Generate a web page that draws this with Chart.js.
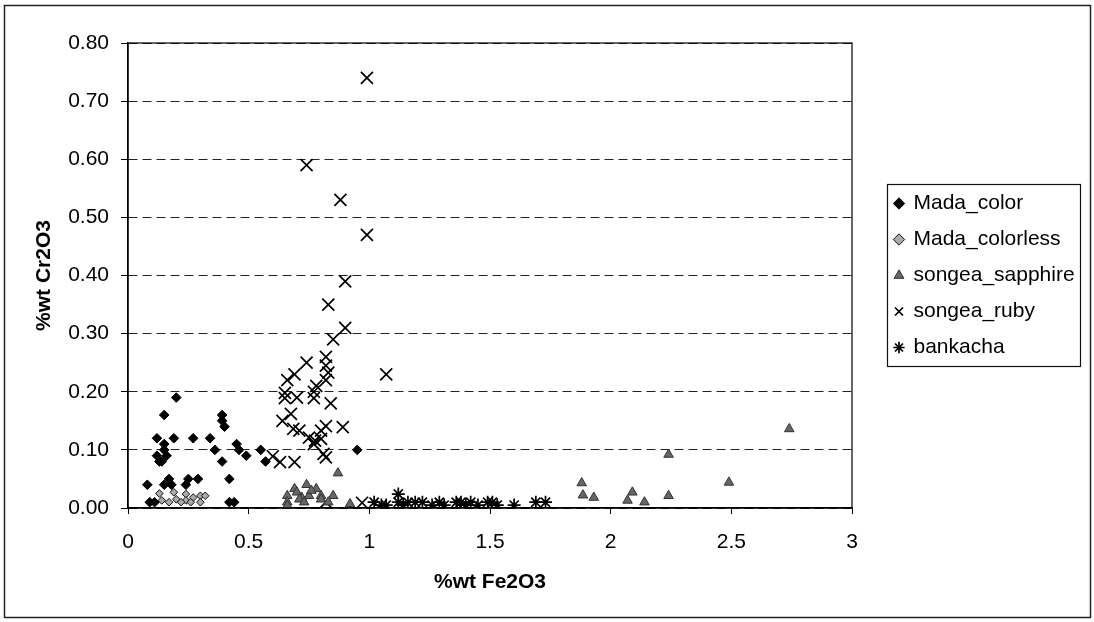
<!DOCTYPE html>
<html><head><meta charset="utf-8">
<script src="https://cdn.jsdelivr.net/npm/chart.js@4.4.0/dist/chart.umd.min.js"></script>
<style>html,body{margin:0;padding:0;background:#fff;}canvas{display:block;}</style>
</head><body>
<canvas id="c" width="1094" height="622"></canvas>
<script>
// ---- data ----
const seriesNames = ['Mada_color', 'Mada_colorless', 'songea_sapphire', 'songea_ruby', 'bankacha'];
const xTickValues = [0, 0.5, 1, 1.5, 2, 2.5, 3];
const yTickValues = [0, 0.1, 0.2, 0.3, 0.4, 0.5, 0.6, 0.7, 0.8];
const xTitle = '%wt Fe2O3';
const yTitle = '%wt Cr2O3';

const madaColorX = [0.20,0.15,0.39,0.39,0.40,0.12,0.19,0.27,0.34,0.15,0.15,0.16,0.12,0.13,0.14,0.36,0.39,0.45,0.46,0.49,0.55,0.57,0.08,0.15,0.17,0.18,0.24,0.25,0.29,0.42,0.09,0.11,0.42,0.44,0.95];
const madaColorY = [0.19,0.16,0.16,0.15,0.14,0.12,0.12,0.12,0.12,0.11,0.10,0.09,0.09,0.08,0.08,0.10,0.08,0.11,0.10,0.09,0.10,0.08,0.04,0.04,0.05,0.04,0.04,0.05,0.05,0.05,0.01,0.01,0.01,0.01,0.10];

const madaColorlessX = [0.13,0.14,0.19,0.20,0.24,0.24,0.27,0.30,0.30,0.32,0.22,0.17,0.26,0.11];
const madaColorlessY = [0.025,0.013,0.027,0.015,0.024,0.013,0.018,0.021,0.010,0.021,0.010,0.010,0.010,0.010];

const sapphireX = [0.87,0.74,0.69,0.66,0.66,0.78,0.80,0.85,0.92,0.72,0.75,0.70,0.80,0.71,0.66,0.76,0.73,0.83,2.74,2.24,1.88,1.885,1.93,2.09,2.07,2.14,2.24,2.49];
const sapphireY = [0.060,0.040,0.033,0.021,0.010,0.033,0.021,0.021,0.007,0.018,0.021,0.027,0.015,0.015,0.004,0.030,0.010,0.010,0.136,0.092,0.043,0.022,0.018,0.027,0.013,0.010,0.021,0.044];

const rubyX = [0.99,0.74,0.88,0.99,0.90,0.83,0.90,0.85,1.07,0.74,0.69,0.66,0.82,0.82,0.83,0.82,0.78,0.77,0.65,0.65,0.70,0.77,0.84,0.675,0.64,0.685,0.71,0.82,0.89,0.80,0.75,0.775,0.80,0.77,0.81,0.82,0.63,0.69,0.60,0.82,0.97];
const rubyY = [0.74,0.59,0.53,0.47,0.39,0.35,0.31,0.29,0.23,0.25,0.23,0.22,0.26,0.245,0.233,0.22,0.21,0.20,0.198,0.189,0.19,0.189,0.18,0.162,0.15,0.136,0.133,0.141,0.139,0.133,0.121,0.116,0.119,0.11,0.093,0.087,0.079,0.079,0.089,0.01,0.009];

const bankachaX = [1.02,1.05,1.07,1.12,1.12,1.14,1.16,1.19,1.22,1.26,1.29,1.31,1.36,1.38,1.40,1.42,1.45,1.49,1.51,1.53,1.60,1.69,1.73];
const bankachaY = [0.010,0.005,0.005,0.024,0.010,0.005,0.010,0.010,0.010,0.005,0.010,0.005,0.010,0.010,0.005,0.010,0.005,0.010,0.010,0.005,0.005,0.010,0.010];

// ---- layout / style constants ----
const FONT = "'Liberation Sans', Arial, sans-serif";
const LEGEND_W = 242;
const LEGEND_SHIFT = 28;

const zip = (xs, ys) => xs.map((x, i) => ({x, y: ys[i]}));

const framePlugin = {
  id: 'frame',
  afterInit(chart) {
    const lg = chart.legend;
    const fit = lg.fit.bind(lg);
    lg.fit = function () { fit(); this.width = LEGEND_W; };
  },
  afterLayout(chart) {
    const lg = chart.legend;
    lg.left += LEGEND_SHIFT; lg.right += LEGEND_SHIFT;
  },
  beforeDraw(chart) {
    const ctx = chart.ctx;
    ctx.save(); ctx.fillStyle = '#fff'; ctx.fillRect(0, 0, chart.width, chart.height); ctx.restore();
  },
  afterDraw(chart) {
    const ctx = chart.ctx, a = chart.chartArea;
    ctx.save();
    ctx.strokeStyle = '#000'; ctx.lineWidth = 1.2; ctx.setLineDash([]);
    ctx.strokeRect(a.left, a.top, a.right - a.left, a.bottom - a.top);
    // legend frame
    const hb = chart.legend.legendHitBoxes;
    if (hb && hb.length) {
      const l = Math.min(...hb.map(h => h.left)) - 8;
      const r = Math.max(...hb.map(h => h.left + h.width)) + 5;
      const t = hb[0].top - 9;
      const b = hb[hb.length - 1].top + hb[hb.length - 1].height + 8;
      ctx.lineWidth = 1.2; ctx.strokeStyle = '#111';
      ctx.strokeRect(Math.round(l) + 0.5, Math.round(t) + 0.5, Math.round(r - l), Math.round(b - t));
    }
    // outer chart frame
    ctx.lineWidth = 1.5; ctx.strokeStyle = '#222';
    ctx.strokeRect(4.5, 5.5, chart.width - 8, chart.height - 10);
    ctx.restore();
  }
};

new Chart(document.getElementById('c'), {
  type: 'scatter',
  data: {
    datasets: [
      {label: seriesNames[0], data: zip(madaColorX, madaColorY), pointStyle: 'rectRot', pointRadius: 4.8,
       backgroundColor: '#000', borderColor: '#000', borderWidth: 1},
      {label: seriesNames[1], data: zip(madaColorlessX, madaColorlessY), pointStyle: 'rectRot', pointRadius: 3.8,
       backgroundColor: '#aaa', borderColor: '#111', borderWidth: 1},
      {label: seriesNames[2], data: zip(sapphireX, sapphireY), pointStyle: 'triangle', pointRadius: 5.5,
       backgroundColor: '#666', borderColor: '#333', borderWidth: 1},
      {label: seriesNames[3], data: zip(rubyX, rubyY), pointStyle: 'crossRot', pointRadius: 8.5,
       backgroundColor: '#000', borderColor: '#000', borderWidth: 1.7},
      {label: seriesNames[4], data: zip(bankachaX, bankachaY), pointStyle: 'star', pointRadius: 6.5,
       backgroundColor: '#000', borderColor: '#000', borderWidth: 1.7}
    ]
  },
  options: {
    responsive: false,
    animation: false,
    devicePixelRatio: 1,
    layout: {padding: {left: 0, top: 43, right: 0, bottom: 0}},
    plugins: {
      tooltip: {enabled: false},
      legend: {
        position: 'right',
        fullSize: false,
        align: 'center',
        labels: {
          usePointStyle: true, boxWidth: 8, boxHeight: 8, padding: 15,
          color: '#000', font: {family: FONT, size: 21}
        }
      }
    },
    scales: {
      x: {
        type: 'linear', min: 0, max: 3,
        afterBuildTicks: s => { s.ticks = xTickValues.map(v => ({value: v})); },
        afterFit: s => { s.height = 114; },
        ticks: {color: '#000', font: {family: FONT, size: 21}, padding: 16, maxRotation: 0,
                callback: v => String(v)},
        grid: {drawOnChartArea: false, drawTicks: true, tickLength: 6, tickColor: '#000', tickWidth: 1},
        border: {display: true, color: '#000', width: 1.5},
        title: {display: true, text: xTitle, color: '#000', font: {family: FONT, size: 21, weight: 'bold'},
                padding: {top: 4, bottom: 27}}
      },
      y: {
        type: 'linear', min: 0, max: 0.8,
        afterBuildTicks: s => { s.ticks = yTickValues.map(v => ({value: v})); },
        afterFit: s => { s.width = 128; },
        ticks: {color: '#000', font: {family: FONT, size: 21}, padding: 12,
                callback: v => v.toFixed(2)},
        grid: {color: '#222', lineWidth: 1, drawTicks: true, tickLength: 7, tickColor: '#000', tickWidth: 1},
        border: {display: true, color: '#000', width: 1.5, dash: [9, 5]},
        title: {display: true, text: yTitle, color: '#000', font: {family: FONT, size: 21, weight: 'bold'},
                padding: {top: 32, bottom: 0}}
      }
    }
  },
  plugins: [framePlugin]
});
</script>
</body></html>
